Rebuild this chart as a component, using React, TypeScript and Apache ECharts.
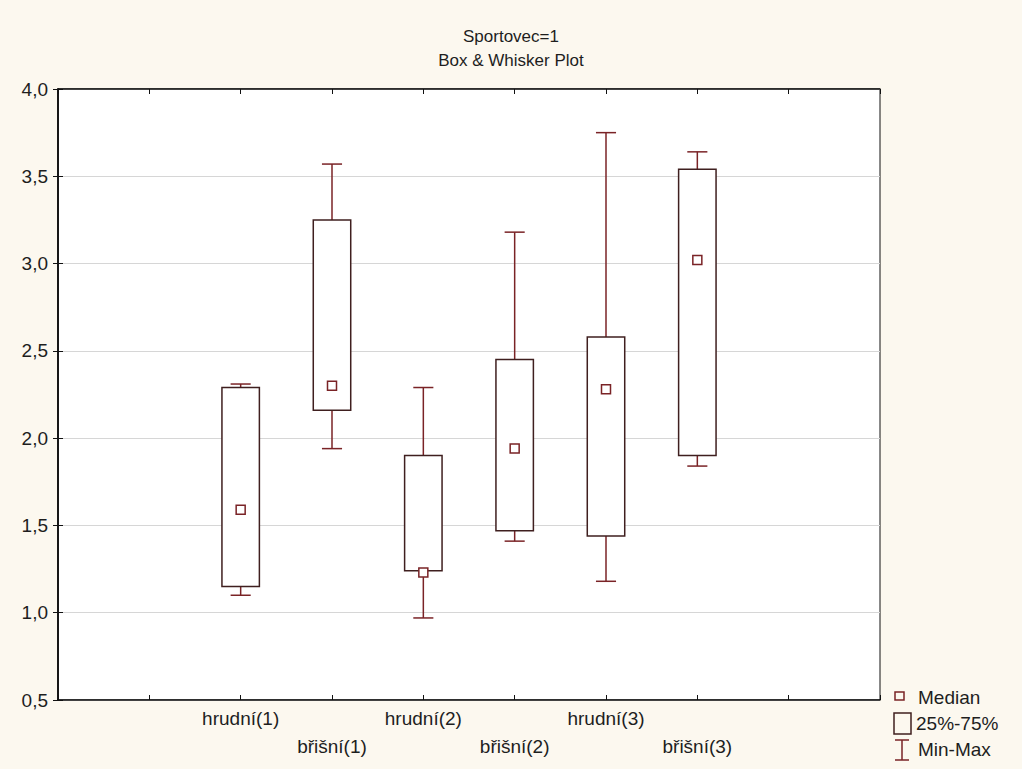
import React, { useEffect, useRef } from "react";
import * as echarts from "echarts";

const categories = ["hrudní(1)", "břišní(1)", "hrudní(2)", "břišní(2)", "hrudní(3)", "břišní(3)"];
const minValues = [1.1, 1.94, 0.97, 1.41, 1.18, 1.84];
const q1Values = [1.15, 2.16, 1.24, 1.47, 1.44, 1.9];
const medianValues = [1.59, 2.3, 1.23, 1.94, 2.28, 3.02];
const q3Values = [2.29, 3.25, 1.9, 2.45, 2.58, 3.54];
const maxValues = [2.31, 3.57, 2.29, 3.18, 3.75, 3.64];
const legendLabels = ["Median", "25%-75%", "Min-Max"];
const titleLines = ["Sportovec=1", "Box & Whisker Plot"];

const FONT = 'Arial, "Liberation Sans", sans-serif';
const WHISKER = "#7a2326";
const BOX = "#3f1f1f";
const TEXT = "#1e1e1e";

export default function App() {
  const ref = useRef<HTMLDivElement>(null);
  useEffect(() => {
    if (!ref.current) return;
    const chart = echarts.init(ref.current, undefined, { renderer: "svg" });
    const data = categories.map((c, i) => [i + 2, minValues[i], q1Values[i], medianValues[i], q3Values[i], maxValues[i]]);
    const labelFor = (v: number, row: number) => {
      const idx = Math.round(v) - 2;
      if (idx < 0 || idx >= categories.length) return "";
      return idx % 2 === row ? categories[idx] : "";
    };
    const baseX = {
      type: "value",
      min: 0,
      max: 9,
      interval: 1,
      splitLine: { show: false },
    };
    chart.setOption({
      animation: false,
      backgroundColor: "#fcf8ef",
      title: {
        text: titleLines.join("\n"),
        left: "center",
        top: 19,
        textStyle: { fontFamily: FONT, fontSize: 17, fontWeight: "normal", color: TEXT, lineHeight: 24 },
      },
      grid: {
        left: 58,
        right: 142,
        top: 89,
        bottom: 69,
        show: true,
        backgroundColor: "#ffffff",
        borderColor: "#111",
        borderWidth: 1,
      },
      xAxis: [
        {
          ...baseX,
          position: "bottom",
          axisLine: { show: true, lineStyle: { color: "#111", width: 1.5 } },
          axisTick: { show: true, inside: true, length: 5, lineStyle: { color: "#111" } },
          axisLabel: {
            show: true,
            margin: 9,
            fontFamily: FONT,
            fontSize: 19,
            color: TEXT,
            formatter: (v: number) => labelFor(v, 0),
          },
        },
        {
          ...baseX,
          position: "bottom",
          offset: 28,
          axisLine: { show: false },
          axisTick: { show: false },
          axisLabel: {
            show: true,
            margin: 9,
            fontFamily: FONT,
            fontSize: 19,
            color: TEXT,
            formatter: (v: number) => labelFor(v, 1),
          },
        },
        {
          ...baseX,
          position: "top",
          axisLine: { show: true, lineStyle: { color: "#111", width: 1.5 } },
          axisTick: { show: true, inside: true, length: 5, lineStyle: { color: "#111" } },
          axisLabel: { show: false },
        },
      ],
      yAxis: [
        {
          type: "value",
          min: 0.5,
          max: 4,
          interval: 0.5,
          axisLine: { show: true, lineStyle: { color: "#111", width: 1.5 } },
          axisTick: { show: true, inside: true, length: 5, lineStyle: { color: "#111" } },
          splitLine: { show: true, lineStyle: { color: "#d6d6d6", width: 1 } },
          axisLabel: {
            margin: 10,
            fontFamily: FONT,
            fontSize: 19,
            color: TEXT,
            formatter: (v: number) => v.toFixed(1).replace(".", ","),
          },
        },
        {
          type: "value",
          position: "right",
          min: 0.5,
          max: 4,
          interval: 0.5,
          axisLine: { show: true, lineStyle: { color: "#111", width: 1.5 } },
          axisTick: { show: true, inside: true, length: 5, lineStyle: { color: "#111" } },
          splitLine: { show: false },
          axisLabel: { show: false },
        },
      ],
      series: [
        {
          type: "custom",
          xAxisIndex: 0,
          yAxisIndex: 0,
          data,
          renderItem: (params: any, api: any) => {
            const x = api.value(0);
            const pMin = api.coord([x, api.value(1)]);
            const pQ1 = api.coord([x, api.value(2)]);
            const pMed = api.coord([x, api.value(3)]);
            const pQ3 = api.coord([x, api.value(4)]);
            const pMax = api.coord([x, api.value(5)]);
            const w = api.size([1, 0])[0];
            const cx = pMin[0];
            const boxW = w * 0.41;
            const capW = w * 0.22;
            const m = 9;
            return {
              type: "group",
              children: [
                { type: "line", shape: { x1: cx, y1: pMax[1], x2: cx, y2: pMin[1] }, style: { stroke: WHISKER, lineWidth: 1.5 } },
                { type: "line", shape: { x1: cx - capW / 2, y1: pMax[1], x2: cx + capW / 2, y2: pMax[1] }, style: { stroke: WHISKER, lineWidth: 1.5 } },
                { type: "line", shape: { x1: cx - capW / 2, y1: pMin[1], x2: cx + capW / 2, y2: pMin[1] }, style: { stroke: WHISKER, lineWidth: 1.5 } },
                {
                  type: "rect",
                  shape: { x: cx - boxW / 2, y: pQ3[1], width: boxW, height: pQ1[1] - pQ3[1] },
                  style: { fill: "#ffffff", stroke: BOX, lineWidth: 1.5 },
                },
                {
                  type: "rect",
                  shape: { x: cx - m / 2, y: pMed[1] - m / 2, width: m, height: m },
                  style: { fill: "#ffffff", stroke: WHISKER, lineWidth: 1.5 },
                },
              ],
            };
          },
        },
      ],
      graphic: [
        { type: "rect", shape: { x: 895, y: 692, width: 9, height: 8 }, style: { fill: "none", stroke: WHISKER, lineWidth: 1.5 } },
        { type: "text", x: 918, y: 697, style: { text: legendLabels[0], font: `19px ${FONT}`, fill: TEXT, verticalAlign: "middle" } },
        { type: "rect", shape: { x: 894, y: 713, width: 17, height: 21 }, style: { fill: "none", stroke: BOX, lineWidth: 1.5 } },
        { type: "text", x: 916, y: 723, style: { text: legendLabels[1], font: `19px ${FONT}`, fill: TEXT, verticalAlign: "middle" } },
        { type: "line", shape: { x1: 902, y1: 740, x2: 902, y2: 760 }, style: { stroke: WHISKER, lineWidth: 1.5 } },
        { type: "line", shape: { x1: 895, y1: 740, x2: 909, y2: 740 }, style: { stroke: WHISKER, lineWidth: 1.5 } },
        { type: "line", shape: { x1: 895, y1: 760, x2: 909, y2: 760 }, style: { stroke: WHISKER, lineWidth: 1.5 } },
        { type: "text", x: 918, y: 749, style: { text: legendLabels[2], font: `19px ${FONT}`, fill: TEXT, verticalAlign: "middle" } },
      ],
    });
    return () => chart.dispose();
  }, []);
  return <div ref={ref} style={{ position: "fixed", left: 0, top: 0, width: 1022, height: 769 }} />;
}
